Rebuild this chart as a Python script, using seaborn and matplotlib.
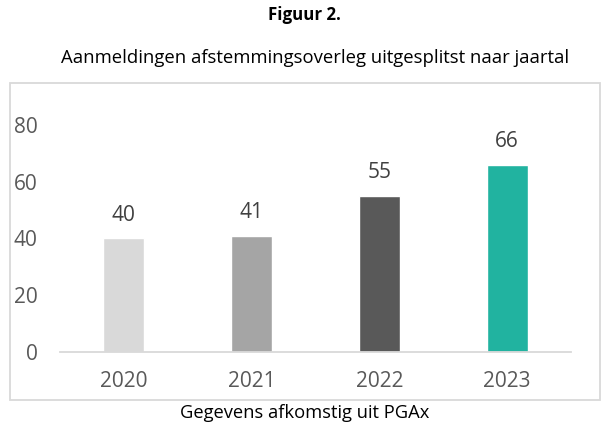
import pandas as pd
import seaborn as sns
import matplotlib.pyplot as plt
from matplotlib.patches import Rectangle

years = ["2020", "2021", "2022", "2023"]
aanmeldingen = [40, 41, 55, 66]
bar_colors = ["#D9D9D9", "#A5A5A5", "#595959", "#21B3A0"]
y_ticks = [0, 20, 40, 60, 80]

title = "Figuur 2."
subtitle = "Aanmeldingen afstemmingsoverleg uitgesplitst naar jaartal"
caption = "Gegevens afkomstig uit PGAx"


def plot_aanmeldingen(df: pd.DataFrame) -> None:
    """Draw the bar chart with Excel-like styling."""
    sns.set_theme(style="white")
    plt.rcParams["font.family"] = ["Open Sans", "DejaVu Sans"]

    W, H = 603, 428
    fig = plt.figure(figsize=(W / 100, H / 100), dpi=100)

    # outer chart frame
    fig.patches.append(Rectangle((10 / W, 1 - 400 / H), 590 / W, 317 / H,
                                 transform=fig.transFigure, fill=False,
                                 edgecolor="#D9D9D9", linewidth=1.3))

    ax = fig.add_axes([60 / W, 1 - 352 / H, 511 / W, (352 - 96.6) / H])
    sns.barplot(data=df, x="jaar", y="aantal", hue="jaar",
                palette=bar_colors, width=0.32, legend=False, ax=ax,
                saturation=1)

    for cont in ax.containers:
        ax.bar_label(cont, padding=9, fontsize=15, color="#404040")

    ax.set_ylim(0, 90)
    ax.set_yticks(y_ticks)
    ax.set_xlim(-0.5, len(years) - 0.5)
    ax.set_xlabel("")
    ax.set_ylabel("")
    for side in ["top", "right", "left"]:
        ax.spines[side].set_visible(False)
    ax.spines["bottom"].set_color("#D9D9D9")
    ax.spines["bottom"].set_linewidth(1.3)
    ax.tick_params(axis="y", length=0, pad=16, labelsize=15,
                   labelcolor="#595959")
    ax.tick_params(axis="x", length=0, pad=14, labelsize=15,
                   labelcolor="#595959")

    fig.text(0.505, 1 - 15 / H, title, ha="center", va="center",
             fontsize=12.2, fontweight="bold", color="black")
    fig.text(0.522, 1 - 58 / H, subtitle, ha="center", va="center",
             fontsize=13.3, color="black")
    fig.text(0.506, 1 - 413 / H, caption, ha="center", va="center",
             fontsize=13.2, color="black")

    fig.savefig("out.png", dpi=100)


data = pd.DataFrame({"jaar": years, "aantal": aanmeldingen})
plot_aanmeldingen(data)
